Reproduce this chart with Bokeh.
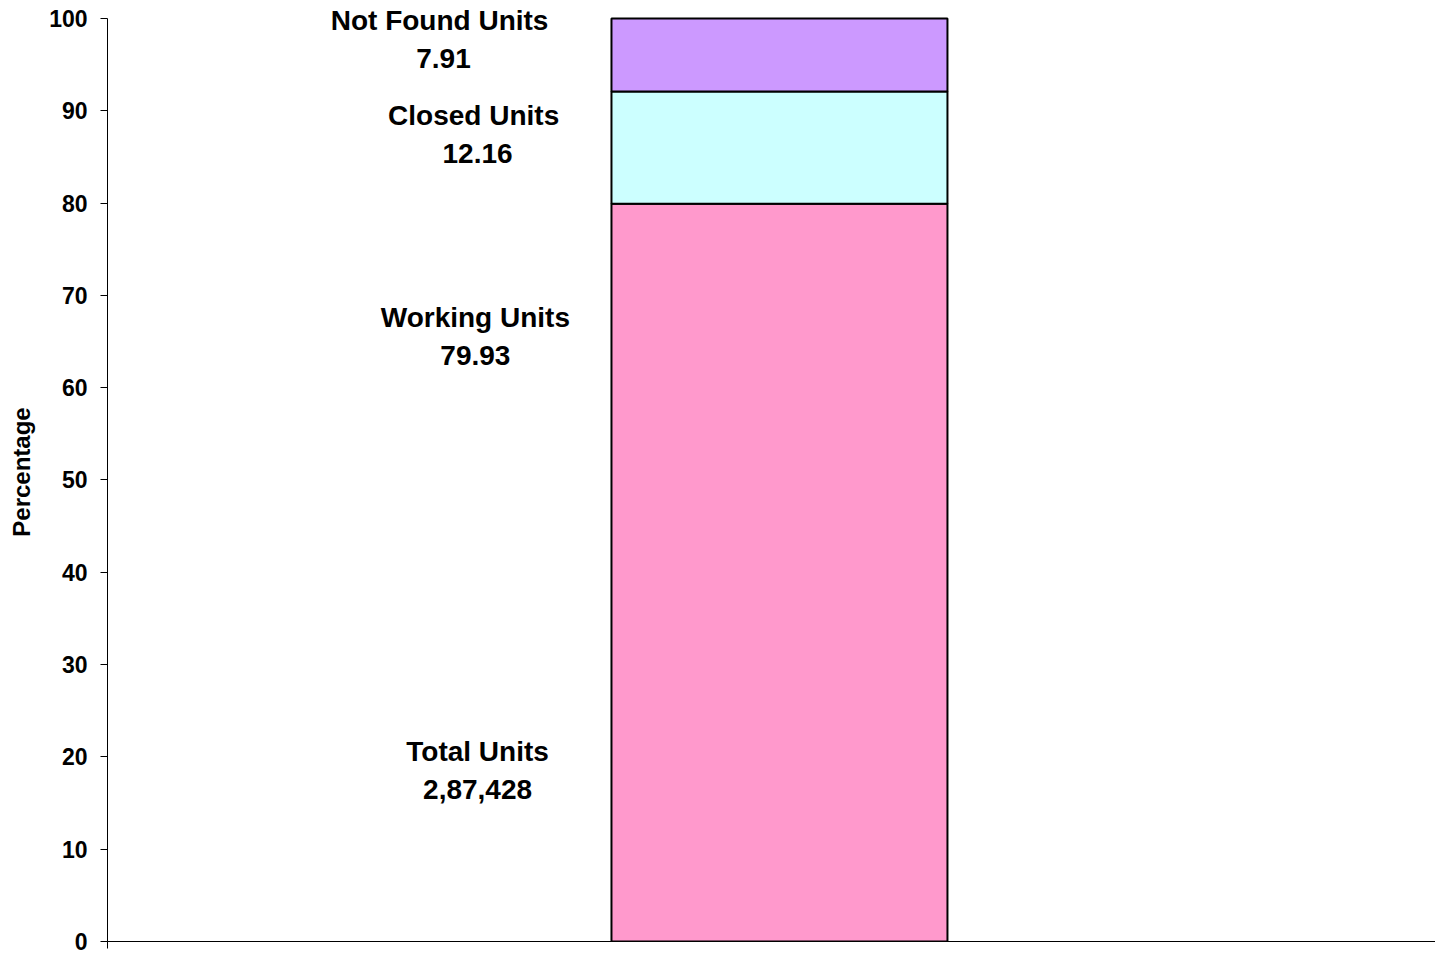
from bokeh.plotting import figure
from bokeh.models import ColumnDataSource, Range1d, FixedTicker, LabelSet
from bokeh.core.properties import value
from bokeh.embed import file_html
from bokeh.resources import INLINE

# ---- data ----
categories = ["Working Units", "Closed  Units", "Not Found  Units"]
percentages = [79.93, 12.16, 7.91]
bar_colors = ["#FF99CC", "#CCFFFF", "#CC99FF"]
total_label = "Total Units"
total_units = "2,87,428"
y_ticks = [0, 10, 20, 30, 40, 50, 60, 70, 80, 90, 100]
y_label = "Percentage"

# ---- layout constants (positions, not data) ----
BAR_X = 1.518
BAR_W = 0.759
Y_TOP = 101.73          # a little headroom above 100 so the top label is not clipped
# label anchors: [working, closed, not found, total]
label_x = [0.831, 0.836, 0.759, 0.836]
name_y = [67.6, 89.5, 99.8, 20.6]
value_y = [63.5, 85.4, 95.7, 16.5]

FONT = "Liberation Sans"

p = figure(
    frame_width=1328, frame_height=939,
    min_border_left=107, min_border_top=2, min_border_right=0, min_border_bottom=13,
    x_range=Range1d(0, 3), y_range=Range1d(0, Y_TOP),
    output_backend="svg", toolbar_location=None,
    background_fill_color="white", border_fill_color="white",
)
p.outline_line_color = None
p.grid.visible = False

keys = ["working", "closed", "not_found"]
src = ColumnDataSource({"x": [BAR_X], **{k: [v] for k, v in zip(keys, percentages)}})
p.vbar_stack(keys, x="x", width=BAR_W, source=src,
             fill_color=bar_colors, line_color="black", line_width=2)

# labels
names = categories + [total_label]
vals = [f"{v:.2f}" for v in percentages] + [total_units]
lab_src = ColumnDataSource(dict(x=label_x + label_x, y=name_y + value_y, t=names + vals))
labels = LabelSet(x="x", y="y", text="t", source=lab_src,
                  text_align="center", text_baseline="middle",
                  text_font=value(FONT), text_font_style="bold", text_font_size="28px",
                  text_color="black")
p.add_layout(labels)

# y axis
ya = p.yaxis[0]
ya.ticker = FixedTicker(ticks=y_ticks)
ya.bounds = (0, 100)
ya.axis_label = y_label
ya.axis_label_text_font = FONT
ya.axis_label_text_font_style = "bold"
ya.axis_label_text_font_size = "24px"
ya.axis_label_text_color = "black"
ya.axis_label_standoff = 11
ya.major_label_text_font = FONT
ya.major_label_text_font_style = "bold"
ya.major_label_text_font_size = "23px"
ya.major_label_text_color = "black"
ya.major_label_standoff = 13
ya.major_tick_in = 0
ya.major_tick_out = 7
ya.minor_tick_line_color = None
ya.axis_line_color = "black"
ya.major_tick_line_color = "black"

# x axis: just the baseline (with the small downward stub at the origin)
xa = p.xaxis[0]
xa.ticker = FixedTicker(ticks=[0])
xa.major_label_overrides = {0: ""}
xa.major_label_standoff = 0
xa.major_tick_in = 0
xa.major_tick_out = 7
xa.minor_tick_line_color = None
xa.axis_line_color = "black"
xa.major_tick_line_color = "black"

open("out.html", "w").write(file_html(p, INLINE))
